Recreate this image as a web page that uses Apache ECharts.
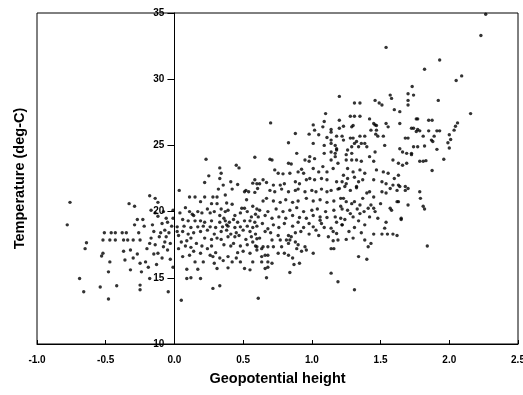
<!DOCTYPE html>
<html>
<head>
<meta charset="utf-8">
<script src="https://cdn.jsdelivr.net/npm/echarts@6/dist/echarts.min.js"></script>
<style>
  html, body { margin: 0; padding: 0; background: #fff; }
  #chart { width: 523px; height: 395px; }
</style>
</head>
<body>
<div id="chart"></div>
<script>
// [geopotential height, temperature], grouped by height range
const westPoints = [
  [-0.76,20.7],[-0.78,19.0],[-0.33,20.6],[-0.29,20.4],[-0.18,21.2],[-0.14,21.0],[-0.12,20.7],
  [-0.27,19.4],[-0.23,19.4],[-0.29,19.0],[-0.17,20.1],[-0.14,19.9],
  [-0.51,18.4],[-0.46,18.4],[-0.43,18.4],[-0.38,18.4],[-0.35,18.4],[-0.26,18.4],
  [-0.52,17.85],[-0.47,17.85],[-0.43,17.85],[-0.37,17.85],[-0.34,17.85],[-0.30,17.85],[-0.25,17.85],
  [-0.64,17.65],[-0.65,17.2],[-0.52,16.85],[-0.53,16.65],[-0.47,16.2],
  [-0.37,17.0],[-0.32,17.1],[-0.36,16.35],[-0.30,16.5],
  [-0.48,15.45],[-0.32,15.6],[-0.25,16.1],[-0.21,16.2],[-0.24,15.45],[-0.19,15.8],[-0.13,16.0],[-0.18,14.95],
  [-0.69,14.95],[-0.66,13.95],[-0.54,14.3],[-0.42,14.4],[-0.25,14.45],[-0.25,14.1],[-0.48,13.4],[-0.045,13.95],
  [-0.09,19.1],[-0.07,18.6],[-0.15,18.5],[-0.11,18.1],[-0.07,17.7],[-0.18,17.6],[-0.14,17.5],[-0.20,17.2],
  [-0.08,17.35],[-0.05,17.1],[-0.12,16.85],[-0.17,18.0],[-0.05,19.2],[-0.03,17.6],[-0.06,18.1],[-0.12,19.65],
  [-0.06,19.5],[-0.01,15.8],[-0.02,18.9],[-0.10,18.4],[-0.04,18.4],[-0.22,18.9],[-0.16,19.0],[-0.01,20.1],
  [-0.08,20.0],[-0.03,16.4],[-0.09,16.5],[-0.15,16.8],[-0.27,16.8]
];

const lowPoints = [
  [0.23,23.95],[0.33,23.3],[0.34,22.9],[0.45,23.5],[0.47,23.3],[0.25,22.7],[0.22,22.2],[0.33,22.5],
  [0.035,21.6],[0.41,22.25],[0.46,22.05],[0.355,22.0],[0.32,21.7],[0.42,21.7],[0.52,21.6],[0.54,21.5],
  [0.585,22.4],[0.60,22.1],[0.605,21.75],[0.585,24.1],[0.57,22.15],[0.51,21.5],[0.585,21.45],
  [0.11,21.1],[0.15,21.1],[0.19,20.75],[0.28,21.1],[0.31,21.1],[0.27,20.6],[0.31,20.6],[0.38,20.65],
  [0.42,20.55],[0.525,20.9],[0.37,21.25],[0.22,21.1],
  [0.34,20.2],[0.37,20.0],[0.39,20.1],[0.49,20.25],[0.51,20.25],[0.57,20.4],[0.60,20.2],[0.26,19.9],
  [0.29,20.0],[0.11,20.0],[0.13,19.8],[0.17,20.0],[0.56,19.6],[0.59,19.8],
  [0.06,19.4],[0.10,19.3],[0.15,19.3],[0.19,19.3],[0.22,19.2],[0.27,19.3],[0.33,19.2],[0.37,19.3],
  [0.40,19.2],[0.43,19.4],[0.46,19.2],[0.51,19.3],[0.55,19.3],[0.585,19.2],[-0.01,19.5],
  [0.02,18.85],[0.07,18.9],[0.12,18.8],[0.17,18.85],[0.21,18.9],[0.26,18.85],[0.30,18.8],[0.35,18.85],
  [0.39,18.9],[0.44,18.8],[0.48,18.85],[0.53,18.9],[0.57,18.8],
  [0.02,18.5],[0.06,18.5],[0.10,18.3],[0.14,18.4],[0.19,18.5],[0.24,18.6],[0.29,18.3],[0.34,18.5],
  [0.38,18.6],[0.41,18.3],[0.45,18.4],[0.50,18.6],[0.55,18.5],[0.59,18.3],
  [0.05,17.7],[0.09,17.8],[0.12,18.0],[0.22,18.0],[0.27,17.9],[0.31,18.0],[0.39,18.1],[0.44,18.1],
  [0.47,18.2],[0.56,18.1],[0.60,17.95],
  [0.12,17.3],[0.20,17.4],[0.27,17.4],[0.36,17.5],[0.43,17.6],[0.48,17.4],[0.53,17.5],[0.59,17.4],
  [0.11,16.7],[0.19,16.85],[0.26,16.7],[0.28,16.6],[0.33,16.5],[0.39,16.6],[0.45,16.5],[0.50,17.0],
  [0.55,16.85],[0.60,17.1],
  [0.15,16.2],[0.21,16.2],[0.29,16.1],[0.355,16.3],[0.42,16.2],[0.48,16.2],[0.57,16.2],
  [0.09,15.65],[0.17,15.65],[0.31,15.7],[0.39,15.75],[0.51,15.7],[0.55,15.6],
  [0.09,14.95],[0.12,15.0],[0.19,14.95],[0.28,14.2],[0.33,14.4],[0.05,13.3],[0.61,13.45],
  [0.04,19.9],[0.08,20.3],[0.14,19.7],[0.20,19.9],[0.24,20.2],[0.33,19.7],[0.36,19.5],[0.44,19.7],
  [0.48,19.9],[0.53,20.0],[0.03,18.2],[0.08,17.4],[0.16,17.6],[0.24,17.2],[0.34,17.9],[0.41,17.4],
  [0.52,17.9],[0.57,17.7],[0.30,16.9],[0.46,16.9],[0.14,17.0],[0.38,19.0],[0.03,17.2],[0.06,16.6]
];

const midPoints = [
  [0.70,26.7],[0.88,25.9],[0.98,25.85],[1.05,25.8],[1.14,26.0],[1.09,25.0],[1.14,25.15],[1.17,25.0],
  [1.01,25.15],[0.83,25.2],[0.89,24.4],[1.09,24.4],[1.17,24.4],[1.18,24.65],[0.695,23.95],[0.83,23.65],
  [0.85,23.6],[0.95,23.9],[0.98,23.8],[1.02,24.0],[1.14,23.9],[1.19,23.65],[0.73,23.15],[0.755,22.9],
  [0.79,22.85],[0.84,22.9],[0.90,23.0],[0.925,23.2],[0.94,22.9],[1.01,23.25],[1.05,23.0],[1.08,23.4],
  [1.11,23.0],[1.155,23.25],[0.645,22.4],[0.67,22.2],[0.72,22.0],[0.77,22.0],[0.80,22.1],[0.88,22.25],
  [0.91,22.1],[0.96,22.4],[0.985,22.5],[1.02,22.4],[1.07,22.5],[1.11,22.4],[1.18,22.25],[0.62,22.1],
  [1.10,27.4],[1.08,26.4],[1.09,26.8],[1.01,26.55],[1.02,26.15],[1.14,26.2],[0.985,24.15],[1.14,24.5],
  [1.18,24.75],[1.17,24.15],[1.11,25.6],[1.14,25.4],[1.18,25.7],[0.71,23.9],
  [0.695,21.6],[0.73,21.5],[0.78,21.7],[0.83,21.5],[0.88,21.6],[0.90,21.7],[0.95,21.5],[1.0,21.6],
  [1.03,21.5],[1.07,21.7],[1.11,21.5],[1.14,21.6],[1.19,21.7],
  [0.645,20.8],[0.67,21.0],[0.72,20.8],[0.77,20.7],[0.81,20.9],[0.86,20.7],[0.90,20.8],[0.96,21.0],
  [1.01,20.8],[1.06,20.9],[1.11,20.7],[1.16,20.8],[1.21,21.0],
  [0.62,20.1],[0.68,20.0],[0.74,20.2],[0.79,20.0],[0.84,20.1],[0.89,20.3],[0.94,20.0],[1.0,20.1],
  [1.04,20.2],[1.10,20.0],[1.16,20.1],[1.22,20.2],
  [0.61,19.6],[0.66,19.7],[0.71,19.5],[0.76,19.6],[0.81,19.5],[0.86,19.7],[0.91,19.55],[0.96,19.5],
  [1.01,19.7],[1.06,19.6],[1.11,19.55],[1.17,19.6],[1.21,19.5],
  [1.18,19.2],[1.22,19.0],[1.06,19.35],[1.07,19.1],[1.14,18.75],[1.155,18.5],[1.18,18.35],[1.01,18.85],
  [1.03,18.6],[1.05,18.2],[1.12,18.1],[1.155,17.8],[1.19,17.85],[1.14,17.2],[1.16,17.2],[1.01,16.85],
  [0.95,17.35],[0.96,17.1],[0.925,17.0],[0.88,17.7],[0.90,17.5],[0.89,17.2],[0.83,18.2],[0.85,18.1],
  [0.815,17.85],[0.84,17.85],[0.83,17.6],[0.755,18.2],[0.77,17.85],[0.78,17.35],[0.755,16.85],[0.80,16.85],
  [0.83,16.7],[0.71,17.85],[0.68,17.35],[0.645,17.35],[0.72,17.35],[0.62,18.0],[0.635,17.2],[0.60,17.35],
  [0.635,16.6],[0.66,16.7],[0.68,16.7],[0.635,16.2],[0.68,16.2],[0.71,16.1],[0.66,15.7],[0.68,15.8],
  [0.67,15.0],[0.84,15.4],[0.91,16.1],[0.86,16.5],[0.87,16.0],[1.14,15.35],[1.19,14.7],
  [0.60,18.9],[0.64,19.1],[0.68,18.7],[0.72,19.0],[0.76,18.8],[0.80,19.1],[0.86,18.9],[0.90,19.2],
  [0.94,18.8],[0.98,19.1],[0.70,18.4],[0.92,18.5],[0.98,18.3],[0.66,18.5],[0.88,18.4],[1.09,18.8]
];

const highPoints = [
  [1.57,28.8],[1.58,28.55],[1.70,28.9],[1.74,28.8],[1.70,28.4],[1.70,28.05],[1.31,28.2],[1.35,28.2],
  [1.46,28.4],[1.49,28.2],[1.51,28.05],[1.60,27.7],[1.64,27.55],[1.28,27.2],[1.31,27.2],[1.35,27.2],
  [1.20,26.9],[1.30,26.5],[1.29,26.4],[1.45,26.65],[1.47,26.5],[1.54,26.65],[1.555,26.4],[1.64,26.65],
  [1.76,27.0],[1.22,25.7],[1.30,25.55],[1.35,25.7],[1.385,25.7],[1.43,26.15],[1.465,25.85],[1.48,25.7],
  [1.52,25.7],[1.68,25.55],[1.70,25.55],[1.725,26.3],[1.76,26.05],[1.785,26.1],[1.31,25.15],[1.34,24.9],
  [1.385,25.15],[1.40,24.9],[1.26,24.65],[1.29,24.4],[1.25,24.3],[1.46,24.5],[1.64,24.75],[1.66,24.5],
  [1.69,24.4],[1.725,24.4],[1.77,24.9],[1.785,23.8],[1.25,23.9],[1.29,23.9],[1.325,23.9],[1.36,23.8],
  [1.42,24.15],[1.45,23.8],[1.59,23.9],[1.63,23.65],[1.66,23.5],[1.26,23.25],[1.30,23.0],[1.35,23.15],
  [1.385,22.9],[1.47,23.15],[1.52,23.0],[1.555,22.9],[1.60,22.5],[1.63,22.75],[1.23,22.75],[1.26,22.5],
  [1.22,22.25],[1.25,22.1],[1.31,22.6],[1.34,22.25],[1.37,22.4],[1.325,21.9],[1.45,22.4],[1.51,22.25],
  [1.54,22.1],[1.59,22.0],[1.63,22.0],[1.68,21.9],
  [1.73,29.45],[1.20,28.7],[1.54,32.4],[1.23,26.45],[1.20,26.3],[1.74,26.3],[1.77,26.2],[1.77,27.0],
  [1.53,25.0],[1.29,24.9],[1.36,25.15],[1.28,25.55],[1.325,25.3],[1.23,25.4],[1.69,23.65],[1.725,24.3],
  [1.74,24.9],[1.42,27.0],[1.46,26.55],[1.47,26.15],
  [1.785,21.5],[1.79,21.0],[1.81,20.4],[1.70,20.5],[1.65,19.5],[1.57,20.25],[1.63,20.75],[1.54,19.2],
  [1.53,18.75],[1.45,18.3],[1.51,18.3],[1.55,18.3],[1.59,18.3],[1.62,18.2],[1.385,17.85],[1.43,17.6],
  [1.41,17.35],[1.34,16.6],[1.40,16.4],[1.31,14.1],[1.22,19.0],[1.31,18.8],[1.385,19.0],[1.28,19.85],
  [1.30,19.6],[1.35,19.85],[1.42,19.6],[1.45,20.25],[1.46,20.0],[1.43,20.5],[1.41,20.25],[1.23,21.0],
  [1.25,20.75],[1.29,20.6],[1.31,20.75],[1.35,20.5],[1.37,21.0],[1.40,21.4],[1.42,21.5],[1.45,21.1],
  [1.51,21.5],[1.54,21.4],[1.57,21.75],[1.62,21.6],[1.64,21.9],[1.68,21.6],[1.70,21.75],[1.20,21.75],
  [1.24,21.9],[1.28,21.6],[1.325,21.8],[1.21,20.4],[1.26,20.1],[1.33,20.2],[1.38,20.0],[1.24,19.4],
  [1.34,19.3],[1.27,18.5],[1.36,18.4],[1.25,17.9],[1.30,18.0],[1.48,19.5],[1.50,20.6],[1.65,19.4],
  [1.58,20.1],[1.62,20.75]
];

const topPoints = [
  [2.265,34.9],[2.23,33.3],[1.93,31.45],[1.82,30.75],[2.05,29.9],[2.09,30.25],[1.92,28.4],[2.155,27.4],
  [1.85,26.9],[1.875,26.9],[2.06,26.7],[2.045,26.45],[2.035,26.15],[1.85,26.1],[1.91,26.1],[1.93,26.1],
  [1.89,25.7],[1.87,25.4],[1.88,25.3],[2.0,25.8],[2.01,25.45],[1.99,25.2],[2.0,24.8],[1.82,24.95],
  [1.91,24.7],[1.96,23.95],[1.83,23.85],[1.875,23.1],[1.81,23.8],[1.81,25.7],[1.82,20.2],[1.84,17.4]
];

const xTicks = { min: -1.0, max: 2.5, step: 0.5 };
const yTicks = { min: 10, max: 35, step: 5 };

const chart = echarts.init(document.getElementById('chart'));
const font = "'Liberation Sans', Arial, Helvetica, sans-serif";

// the y axis sits at height 0; it is shifted in from the frame by one axis unit
const gridLeft = 37, gridWidth = 481;
const yAxisShift = gridWidth * (0 - xTicks.min) / (xTicks.max - xTicks.min);

chart.setOption({
  animation: false,
  backgroundColor: '#fff',
  grid: {
    left: gridLeft, width: gridWidth, top: 13, bottom: 51,
    containLabel: false,
    outerBoundsMode: 'none',
    show: true, borderColor: '#000', borderWidth: 1
  },
  xAxis: {
    type: 'value',
    min: xTicks.min, max: xTicks.max, interval: xTicks.step,
    name: 'Geopotential height',
    nameLocation: 'middle',
    nameGap: 27,
    nameTextStyle: { fontFamily: font, fontWeight: 'bold', fontSize: 14.5, color: '#000' },
    axisLine: { onZero: false, lineStyle: { color: '#000', width: 1 } },
    axisTick: { inside: true, length: 4, lineStyle: { color: '#000' } },
    axisLabel: {
      margin: 11, color: '#000', fontFamily: font, fontWeight: 'bold', fontSize: 10,
      formatter: v => v.toFixed(1)
    },
    splitLine: { show: false }
  },
  yAxis: {
    type: 'value',
    min: yTicks.min, max: yTicks.max, interval: yTicks.step,
    offset: -yAxisShift,
    name: 'Temperature (deg-C)',
    nameLocation: 'middle',
    nameGap: 147,
    nameTextStyle: { fontFamily: font, fontWeight: 'bold', fontSize: 14.5, color: '#000' },
    axisLine: { onZero: false, lineStyle: { color: '#000', width: 1 } },
    axisTick: { inside: false, length: 7, lineStyle: { color: '#000' } },
    axisLabel: { margin: 10, color: '#000', fontFamily: font, fontWeight: 'bold', fontSize: 10 },
    splitLine: { show: false }
  },
  series: [{
    type: 'scatter',
    symbol: 'circle',
    symbolSize: 3.4,
    itemStyle: { color: '#000' },
    data: [].concat(westPoints, lowPoints, midPoints, highPoints, topPoints)
  }]
});
</script>
</body>
</html>
